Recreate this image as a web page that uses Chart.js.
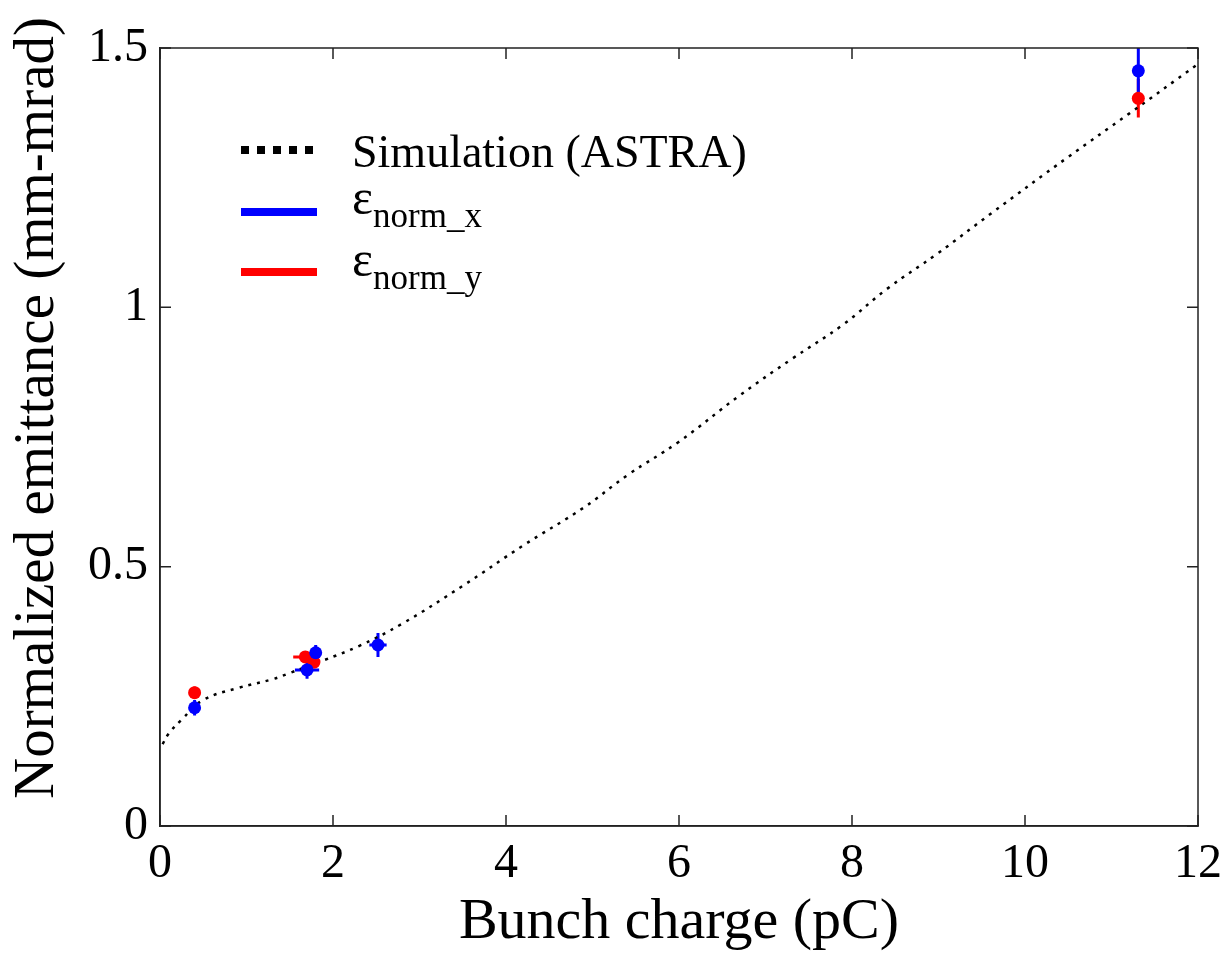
<!DOCTYPE html>
<html>
<head>
<meta charset="utf-8">
<script src="https://cdn.jsdelivr.net/npm/chart.js@4.4.1/dist/chart.umd.min.js"></script>
<style>
  html, body { margin: 0; padding: 0; background: #fff; }
  #wrap { width: 1227px; height: 954px; position: relative; }
</style>
</head>
<body>
<div id="wrap"><canvas id="chart"></canvas></div>
<script>
// ASTRA simulation curve
const simX = [0.03, 0.1, 0.25, 0.5, 0.9, 1.3, 1.5, 1.9, 2.3, 2.8, 3.5, 4.2, 4.9, 5.4, 6.0, 6.7, 7.3, 7.9, 8.4, 9.0, 9.6, 10.5, 11.2, 12.0];
const simY = [0.158, 0.178, 0.205, 0.243, 0.266, 0.283, 0.295, 0.320, 0.347, 0.390, 0.463, 0.541, 0.614, 0.676, 0.741, 0.830, 0.900, 0.967, 1.035, 1.105, 1.180, 1.290, 1.373, 1.469];

// measured emittance, x plane (blue)
const normXCharge = [0.40, 1.70, 1.80, 2.52, 11.31];
const normXValue = [0.228, 0.301, 0.334, 0.349, 1.456];
const normXChargeErr = [0.05, 0.14, 0.03, 0.10, 0.04];
const normXValueErr = [0.015, 0.017, 0.015, 0.023, 0.046];

// measured emittance, y plane (red)
const normYCharge = [0.40, 1.68, 1.78, 11.31];
const normYValue = [0.257, 0.326, 0.316, 1.403];
const normYChargeErr = [0.03, 0.14, 0.03, 0.06];
const normYValueErr = [0.012, 0.010, 0.012, 0.037];

const xTicks = [0, 2, 4, 6, 8, 10, 12];
const yTicks = [0, 0.5, 1, 1.5];
const yTickLabels = ['0', '0.5', '1', '1.5'];

const serif = "'Liberation Serif', 'Times New Roman', serif";

const toPoints = (xs, ys) => xs.map((x, i) => ({ x: x, y: ys[i] }));

// error bars, drawn under the markers
const errorBars = {
  id: 'errorBars',
  beforeDatasetsDraw(chart) {
    const { ctx, chartArea, scales } = chart;
    ctx.save();
    ctx.beginPath();
    ctx.rect(chartArea.left, chartArea.top, chartArea.right - chartArea.left, chartArea.bottom - chartArea.top);
    ctx.clip();
    chart.data.datasets.forEach(ds => {
      if (!ds.xErr) return;
      ctx.strokeStyle = ds.borderColor;
      ctx.lineWidth = 3;
      ds.data.forEach((p, i) => {
        const px = scales.x.getPixelForValue(p.x);
        const py = scales.y.getPixelForValue(p.y);
        const x0 = scales.x.getPixelForValue(p.x - ds.xErr[i]);
        const x1 = scales.x.getPixelForValue(p.x + ds.xErr[i]);
        const y0 = scales.y.getPixelForValue(p.y - ds.yErr[i]);
        const y1 = scales.y.getPixelForValue(p.y + ds.yErr[i]);
        ctx.beginPath();
        ctx.moveTo(x0, py); ctx.lineTo(x1, py);
        ctx.moveTo(px, y0); ctx.lineTo(px, y1);
        ctx.stroke();
      });
    });
    ctx.restore();
  }
};

// box on all four sides with inward ticks, y title and the legend
const frame = {
  id: 'frame',
  afterDraw(chart) {
    const { ctx, chartArea: a, scales } = chart;
    ctx.save();
    ctx.strokeStyle = '#222';
    ctx.lineWidth = 1.5;
    ctx.strokeRect(a.left, a.top, a.right - a.left, a.bottom - a.top);
    ctx.beginPath();
    xTicks.forEach(v => {
      const px = scales.x.getPixelForValue(v);
      ctx.moveTo(px, a.bottom); ctx.lineTo(px, a.bottom - 11);
      ctx.moveTo(px, a.top); ctx.lineTo(px, a.top + 11);
    });
    yTicks.forEach(v => {
      const py = scales.y.getPixelForValue(v);
      ctx.moveTo(a.left, py); ctx.lineTo(a.left + 11, py);
      ctx.moveTo(a.right, py); ctx.lineTo(a.right - 11, py);
    });
    ctx.stroke();

    // y axis title, sits a little above the middle of the axis
    ctx.save();
    ctx.translate(38, 408);
    ctx.rotate(-Math.PI / 2);
    ctx.fillStyle = '#000';
    ctx.font = '57px ' + serif;
    ctx.textAlign = 'center';
    ctx.textBaseline = 'middle';
    ctx.fillText('Normalized emittance (mm-mrad)', 0, 0);
    ctx.restore();

    // legend
    const lx0 = 241, lx1 = 317, tx = 352;
    ctx.lineCap = 'butt';
    ctx.strokeStyle = '#000';
    ctx.lineWidth = 8;
    ctx.setLineDash([8, 8]);
    ctx.beginPath(); ctx.moveTo(lx0, 150); ctx.lineTo(lx1, 150); ctx.stroke();
    ctx.setLineDash([]);
    ctx.strokeStyle = '#0000ff';
    ctx.beginPath(); ctx.moveTo(lx0, 212); ctx.lineTo(lx1, 212); ctx.stroke();
    ctx.strokeStyle = '#ff0000';
    ctx.beginPath(); ctx.moveTo(lx0, 272); ctx.lineTo(lx1, 272); ctx.stroke();

    ctx.fillStyle = '#000';
    ctx.textBaseline = 'alphabetic';
    ctx.textAlign = 'left';
    ctx.font = '46px ' + serif;
    ctx.fillText('Simulation (ASTRA)', tx, 167);
    [['x', 214], ['y', 276]].forEach(([s, base]) => {
      ctx.font = '50px ' + serif;
      ctx.fillText('\u03b5', tx, base);
      const w = ctx.measureText('\u03b5').width;
      ctx.font = '35px ' + serif;
      ctx.fillText('norm_' + s, tx + w, base + 13);
    });
    ctx.restore();
  }
};

new Chart(document.getElementById('chart'), {
  type: 'scatter',
  data: {
    datasets: [
      {
        label: 'Simulation (ASTRA)',
        data: toPoints(simX, simY),
        showLine: true,
        borderColor: '#000',
        borderWidth: 2.5,
        borderDash: [3, 6],
        pointRadius: 0,
        tension: 0.4,
        order: 3
      },
      {
        label: 'norm_y',
        data: toPoints(normYCharge, normYValue),
        xErr: normYChargeErr,
        yErr: normYValueErr,
        borderColor: '#ff0000',
        backgroundColor: '#ff0000',
        pointRadius: 6.5,
        pointBorderWidth: 0,
        order: 2
      },
      {
        label: 'norm_x',
        data: toPoints(normXCharge, normXValue),
        xErr: normXChargeErr,
        yErr: normXValueErr,
        borderColor: '#0000ff',
        backgroundColor: '#0000ff',
        pointRadius: 6.5,
        pointBorderWidth: 0,
        order: 1
      }
    ]
  },
  options: {
    responsive: true,
    maintainAspectRatio: false,
    animation: false,
    layout: { padding: { top: 48, right: 29, left: 0, bottom: 0 } },
    plugins: {
      legend: { display: false },
      tooltip: { enabled: false }
    },
    scales: {
      x: {
        type: 'linear',
        min: 0,
        max: 12,
        afterFit: s => { s.height = 128; s.paddingRight = 0; s.paddingLeft = 0; },
        afterBuildTicks: s => { s.ticks = xTicks.map(v => ({ value: v })); },
        grid: { display: false, drawTicks: false },
        border: { display: true, color: '#222', width: 1.5 },
        ticks: { color: '#000', padding: 10, font: { family: serif, size: 48 } },
        title: { display: true, text: 'Bunch charge (pC)', color: '#000', padding: { top: 0, bottom: -4 }, font: { family: serif, size: 58 } }
      },
      y: {
        type: 'linear',
        min: 0,
        max: 1.5,
        afterFit: s => { s.width = 160; },
        afterBuildTicks: s => { s.ticks = yTicks.map(v => ({ value: v })); },
        grid: { display: false, drawTicks: false },
        border: { display: true, color: '#222', width: 1.5 },
        ticks: {
          color: '#000',
          padding: 12,
          font: { family: serif, size: 48 },
          callback: v => yTickLabels[yTicks.indexOf(v)]
        }
      }
    }
  },
  plugins: [errorBars, frame]
});
</script>
</body>
</html>
